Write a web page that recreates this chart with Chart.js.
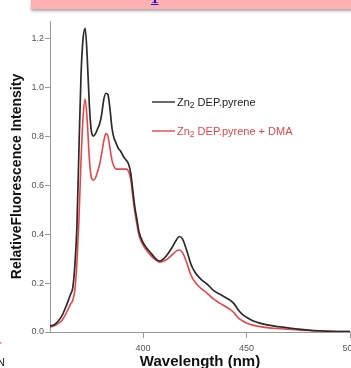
<!DOCTYPE html>
<html>
<head>
<meta charset="utf-8">
<script src="https://cdn.jsdelivr.net/npm/chart.js@4"></script>
<style>
  body { margin: 0; background: #fff; }
  #wrap { position: relative; width: 351px; height: 368px; overflow: hidden; }
  #c { position: absolute; left: 0; top: 0; }
  .banner { position: absolute; left: 31px; top: 0; width: 330px; height: 9px; background: #ffb0b0;
            box-shadow: 0 2px 3px rgba(0,0,0,0.35); overflow: hidden; }
  .banner span { position: absolute; left: 120px; top: -10px; font: bold 15px "Liberation Serif", serif;
                 color: #1a10d8; text-decoration: underline; }
  .stray { position: absolute; font: 11px "Liberation Sans", Arial, sans-serif; }
</style>
</head>
<body>
<div id="wrap">
  <canvas id="c" width="351" height="368"></canvas>
  <div class="banner"><span>1</span></div>
  <div class="stray" style="left:0px;top:340px;color:#e33;font-size:9px">'</div>
  <div class="stray" style="left:-3px;top:356px;color:#222">N</div>
</div>
<script>
// emission spectra
const wavelength = [355, 357, 359, 361, 363, 365,
  366, 367, 368, 369, 370, 371, 372, 373, 374, 375, 376, 377, 378, 379, 380, 381, 382,
  383, 384, 385, 386, 387, 388, 389, 390, 391, 392, 393, 394, 395, 396, 397, 398,
  400, 402, 404, 406, 408, 410, 412, 414, 416,
  417.5, 419, 421, 423, 425,
  428, 431, 434, 437, 440,
  442, 444, 446, 448, 450,
  453, 456, 460, 465, 470, 475, 480, 485, 490, 495, 500];

const zn2Pyrene = [0.025, 0.03, 0.045, 0.07, 0.11, 0.155,
  0.18, 0.27, 0.43, 0.75, 1.05, 1.20, 1.24, 1.12, 0.93, 0.82, 0.80, 0.81, 0.83, 0.85, 0.89, 0.95, 0.975,
  0.97, 0.91, 0.83, 0.79, 0.77, 0.75, 0.74, 0.725, 0.71, 0.70, 0.685, 0.65, 0.58, 0.51, 0.46, 0.41,
  0.365, 0.34, 0.32, 0.30, 0.29, 0.30, 0.32, 0.345, 0.375,
  0.39, 0.38, 0.335, 0.28, 0.245,
  0.215, 0.195, 0.17, 0.155, 0.14,
  0.13, 0.115, 0.09, 0.072, 0.06,
  0.046, 0.037, 0.029, 0.022, 0.017, 0.012, 0.008, 0.005, 0.003, 0.002, 0.002];

const zn2PyreneDMA = [0.02, 0.025, 0.035, 0.05, 0.08, 0.115,
  0.13, 0.17, 0.28, 0.46, 0.70, 0.88, 0.95, 0.86, 0.71, 0.63, 0.62, 0.63, 0.655, 0.685, 0.73, 0.78, 0.81,
  0.80, 0.75, 0.70, 0.675, 0.665, 0.665, 0.665, 0.665, 0.665, 0.665, 0.655, 0.625, 0.555, 0.49, 0.44, 0.395,
  0.355, 0.33, 0.31, 0.295, 0.285, 0.29, 0.30, 0.315, 0.33,
  0.335, 0.325, 0.285, 0.235, 0.205,
  0.178, 0.158, 0.135, 0.118, 0.103,
  0.092, 0.078, 0.058, 0.046, 0.037,
  0.028, 0.023, 0.018, 0.014, 0.011, 0.008, 0.006, 0.004, 0.003, 0.002, 0.002];

const xTicks = [400, 450, 500];
const yTicks = [0, 0.2, 0.4, 0.6, 0.8, 1.0, 1.2];
const seriesNames = [" DEP.pyrene", " DEP.pyrene + DMA"];

const BLACK = "#2b2b2b";
const RED = "#e8454a";

const toPoints = (ys) => wavelength.map((w, i) => ({ x: w, y: ys[i] }));

// legend with the subscript 2 in Zn2
const legendPlugin = {
    id: "zn2legend",
    afterDraw(chart) {
        const ctx = chart.ctx;
        const rows = [102, 131];
        chart.data.datasets.forEach((ds, i) => {
            const y = rows[i];
            ctx.save();
            ctx.strokeStyle = ds.borderColor;
            ctx.lineWidth = 1.4;
            ctx.beginPath();
            ctx.moveTo(152, y);
            ctx.lineTo(175, y);
            ctx.stroke();
            ctx.fillStyle = i === 0 ? "#222" : RED;
            ctx.textBaseline = "middle";
            ctx.font = '11px "Liberation Sans", Arial, sans-serif';
            let x = 177;
            ctx.fillText("Zn", x, y + 1);
            x += ctx.measureText("Zn").width;
            ctx.font = '8.5px "Liberation Sans", Arial, sans-serif';
            ctx.fillText("2", x, y + 4);
            x += ctx.measureText("2").width;
            ctx.font = '11px "Liberation Sans", Arial, sans-serif';
            ctx.fillText(seriesNames[i], x, y + 1);
            ctx.restore();
        });
    }
};

new Chart(document.getElementById("c"), {
    type: "line",
    data: {
        datasets: [
            {
                label: "Zn2" + seriesNames[0],
                data: toPoints(zn2Pyrene),
                borderColor: BLACK,
                borderWidth: 1.7,
                pointRadius: 0,
                cubicInterpolationMode: "monotone"
            },
            {
                label: "Zn2" + seriesNames[1],
                data: toPoints(zn2PyreneDMA),
                borderColor: RED,
                borderWidth: 1.6,
                pointRadius: 0,
                cubicInterpolationMode: "monotone"
            }
        ]
    },
    options: {
        responsive: false,
        animation: false,
        layout: { padding: { top: 21, right: 1, left: 0, bottom: 0 } },
        plugins: { legend: { display: false }, tooltip: { enabled: false } },
        scales: {
            x: {
                type: "linear",
                min: 355,
                max: 500,
                afterBuildTicks: (s) => { s.ticks = xTicks.map(v => ({ value: v })); },
                afterFit: (s) => { s.height = 36; s.paddingLeft = 0; s.paddingRight = 0; },
                grid: { drawOnChartArea: false, drawTicks: true, tickLength: 6, color: "#999" },
                border: { color: "#999", width: 1 },
                ticks: {
                    padding: 5,
                    maxRotation: 0,
                    color: "#555",
                    font: { family: "Liberation Sans", size: 9 }
                },
                title: {
                    display: true,
                    text: "Wavelength (nm)",
                    color: "#111",
                    padding: { top: 0, bottom: -1 },
                    font: { family: "Liberation Sans", size: 15, weight: "bold", lineHeight: 1 }
                }
            },
            y: {
                min: 0,
                max: 1.27,
                afterBuildTicks: (s) => { s.ticks = yTicks.map(v => ({ value: v })); },
                afterFit: (s) => { s.width = 50; s.paddingTop = 0; s.paddingBottom = 0; },
                grid: { drawOnChartArea: false, drawTicks: true, tickLength: 5, color: "#999" },
                border: { color: "#999", width: 1 },
                ticks: {
                    padding: 1,
                    color: "#555",
                    font: { family: "Liberation Sans", size: 9 },
                    callback: (v) => v.toFixed(1)
                },
                title: {
                    display: true,
                    text: "RelativeFluorescence Intensity",
                    color: "#111",
                    padding: { top: 9, bottom: 0 },
                    font: { family: "Liberation Sans", size: 14, weight: "bold" }
                }
            }
        }
    },
    plugins: [legendPlugin]
});
</script>
</body>
</html>
